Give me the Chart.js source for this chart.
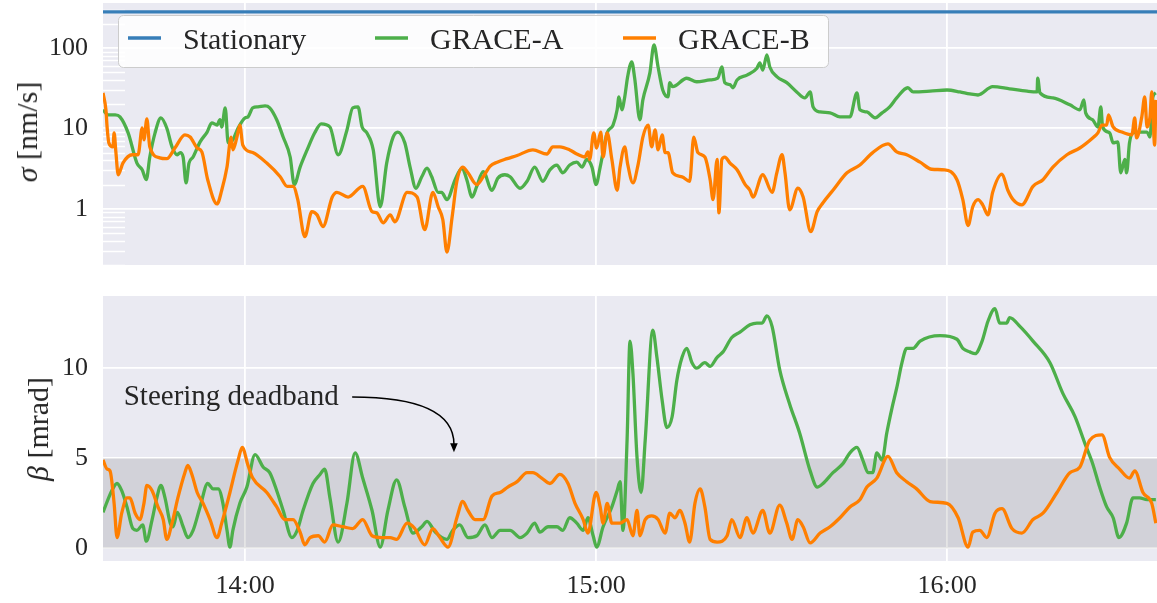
<!DOCTYPE html>
<html>
<head>
<meta charset="utf-8">
<title>Attitude noise and steering angle</title>
<script src="https://cdn.jsdelivr.net/npm/chart.js@4.4.0/dist/chart.umd.min.js"></script>
<style>
  html, body { margin: 0; padding: 0; background: #ffffff; }
  #wrap { position: relative; width: 1157px; height: 603px; overflow: hidden; }
  #sigmaChart { position: absolute; left: 0; top: 0; }
  #betaChart { position: absolute; left: 0; top: 290px; }
  .ytitle {
    position: absolute;
    font-family: 'Liberation Serif', serif;
    font-size: 30px;
    color: #262626;
    white-space: nowrap;
    transform: translate(-50%, -50%) rotate(-90deg);
  }
</style>
</head>
<body>
<div id="wrap">
  <canvas id="sigmaChart" width="1157" height="265"></canvas>
  <canvas id="betaChart" width="1157" height="313"></canvas>
  <div class="ytitle" style="left:27px; top:132px"><i>σ</i> [nm/s]</div>
  <div class="ytitle" style="left:38px; top:429px"><i>β</i> [mrad]</div>
</div>
<script>
// time axis is in minutes after midnight
const tMin = 815.7, tMax = 995.9;
const timeTicks = [840, 900, 960];
const timeTickLabels = ['14:00', '15:00', '16:00'];

const sigmaTicks = [1, 10, 100];
const sigmaTickLabels = ['1', '10', '100'];
const betaTicks = [0, 5, 10];
const betaTickLabels = ['0', '5', '10'];

const seriesLabels = ['Stationary', 'GRACE-A', 'GRACE-B'];
const stationarySigma = 280;
const deadband = [0, 5];

// sigma [nm/s], GRACE-A
const sigmaATime = [815.7,816.6,817.8,818.6,820.0,821.5,822.4,823.1,823.7,824.6,
  825.6,826.6,827.5,828.4,828.9,829.4,829.9,830.4,831.1,832.3,
  833.5,834.3,835.2,835.7,836.0,836.6,837.1,837.9,838.8,840.0,
  840.5,841.3,842.2,843.4,844.2,845.4,846.5,847.7,848.4,849.4,
  850.6,851.9,853.0,854.5,855.9,857.4,858.4,859.3,860.0,860.8,
  861.9,863.1,864.2,865.3,866.1,867.3,868.2,869.2,870.2,871.1,
  871.9,873.0,873.6,874.5,875.9,877.1,877.9,878.8,879.6,880.7,
  882.2,883.2,884.4,885.3,887.0,888.2,889.5,890.9,892.1,893.3,
  894.3,895.5,896.7,897.6,898.4,899.3,900.0,900.7,901.9,902.9,
  903.6,903.9,904.4,904.9,905.4,906.1,906.6,907.5,908.0,909.2,
  909.9,910.6,911.4,912.3,912.6,913.1,915.5,917.2,919.5,920.8,
  921.5,922.0,922.9,923.4,924.1,925.8,927.5,928.0,928.5,929.2,
  929.7,930.9,932.6,934.3,935.7,936.6,937.1,938.3,940.0,941.7,
  943.4,944.6,945.1,946.3,947.7,948.9,950.2,951.4,953.3,954.2,
  957.1,960.0,962.2,963.9,965.3,967.8,970.7,973.7,975.4,975.5,
  975.9,978.1,981.0,982.7,983.4,983.7,984.9,985.8,986.3,986.6,
  987.8,988.4,989.2,989.7,990.4,990.7,991.2,991.8,992.9,994.2,
  994.7,995.2,995.7];
const sigmaA = [17,14.7,14.7,13.9,8.8,3.7,3.05,2.3,4.4,8.8,
  13.5,10.1,5.9,4.7,5.0,4.4,2.1,3.7,4.4,6.8,
  9.0,11.7,11,12.8,10.4,18,6.6,7.2,10.1,13.5,
  13.9,18,18.5,19,18,12.8,7.8,4.4,2.0,3.3,
  5.4,8.8,11.4,10.4,4.7,9.5,18,18.5,10.4,8.8,
  5.4,1.06,3.7,7.8,9.0,6.6,3.3,1.8,2.5,3.2,
  2.5,1.6,1.6,1.3,2.3,3.2,2.3,1.4,1.9,2.9,
  1.7,2.4,2.65,2.5,1.8,2.2,3.3,2.2,3.05,3.5,
  2.8,3.5,3.8,3.3,4.1,3.3,2.0,3.3,8.8,11,
  17,24.6,17,24.6,44,67,42,12.8,22.6,49,
  109,58,30,24.6,37,33,42,38,40,42,
  58,37,35,32,40,46,56,65,53,82,
  58,44,37,28.4,23.9,28.4,18.5,16,15.6,13.9,
  13.9,27.6,17,16,13.5,15.6,18.5,23.9,32,28.4,
  29,30,28.4,26.8,26,33,31,29,28.4,42,
  27.6,23.9,19.6,17,22.6,15.6,12.8,10.4,18.5,10.4,
  8.8,6.6,6.8,2.8,4.1,2.8,6.6,8.8,9.0,9.0,
  7.8,24.6,27.6];

// sigma [nm/s], GRACE-B
const sigmaBTime = [815.7,816.2,816.4,816.7,817.4,817.6,817.9,818.3,819.1,820.7,
  821.7,822.4,822.7,823.2,823.7,825.4,826.6,828.0,829.7,830.6,
  831.8,832.6,833.6,835.2,836.0,836.9,837.6,837.9,838.6,839.1,
  839.6,841.3,843.7,846.0,847.2,848.2,849.0,850.2,851.4,852.3,
  853.3,854.9,855.7,857.6,860.1,861.7,862.5,863.6,864.8,865.6,
  867.7,869.4,870.7,872.1,873.0,873.8,874.5,875.4,876.2,877.2,
  878.1,879.6,880.7,881.9,883.1,884.8,886.5,889.2,891.6,892.6,
  893.8,895.5,896.7,898.1,898.6,898.9,899.6,900.1,900.8,901.2,
  901.9,902.7,903.6,904.1,904.9,905.4,906.3,907.2,908.0,908.9,
  909.5,910.1,910.6,911.3,911.8,912.3,913.1,914.7,916.0,916.7,
  917.4,918.6,919.5,920.0,920.7,921.0,921.5,922.0,922.9,924.1,
  925.5,926.3,926.8,928.5,930.1,930.9,931.8,932.3,933.1,934.5,
  935.4,936.7,937.8,938.8,940.5,942.9,945.1,947.3,949.9,951.4,
  953.1,955.4,957.4,959.6,961.7,962.7,963.6,964.4,965.3,966.1,
  967.0,967.8,969.4,970.4,971.3,972.8,974.7,976.4,978.1,980.5,
  982.7,984.9,985.8,986.5,987.3,987.6,988.4,989.9,991.6,992.1,
  992.4,993.3,993.8,994.2,994.7,995.0,995.5,995.7];
const sigmaB = [27.6,17,10.4,6.6,5.9,8.8,5.1,2.65,3.7,4.7,
  4.7,10.1,7.2,13.1,5.9,4.3,4.2,5.7,8.3,7.8,
  5.7,5.1,2.3,1.15,1.7,3.3,7.8,5.4,7.8,11,
  6.2,5.0,3.7,2.5,1.9,1.9,1.3,0.45,0.92,0.84,
  0.60,1.4,1.6,1.4,1.9,0.92,0.89,0.67,0.84,0.69,
  1.6,1.4,0.55,1.6,1.06,0.73,0.29,0.80,2.2,3.3,
  2.8,2.0,2.5,3.4,3.8,4.2,4.6,5.4,4.8,5.9,
  5.9,5.4,4.8,4.4,5.1,4.1,8.8,5.7,9.0,4.4,
  8.8,4.1,1.7,3.3,5.9,3.6,2.1,3.6,7.8,11,
  5.9,9.6,5.4,8.3,5.0,5.0,2.8,2.5,2.2,7.8,
  5.0,4.4,2.3,1.3,4.1,0.89,4.1,4.4,3.7,3.05,
  2.0,1.7,1.4,2.65,1.6,2.8,4.7,2.8,0.97,1.8,
  1.4,0.52,0.92,1.19,1.7,2.8,3.5,5.0,6.4,5.1,
  4.7,3.8,3.1,3.05,2.3,1.3,0.62,1.06,1.3,1.12,
  0.84,1.6,2.7,1.7,1.3,1.12,1.9,2.3,3.3,4.7,
  5.7,7.6,8.8,11,11,14.7,10.4,9.0,8.3,13.5,
  7.6,13.9,24.6,10.4,13.9,28.4,6.2,22.6];

// beta [mrad], GRACE-A
const betaATime = [815.7,817.2,818.1,818.9,819.8,820.8,821.5,822.5,823.1,824.1,
  824.9,825.6,826.3,827.2,827.7,828.4,829.4,830.2,831.1,832.3,
  833.6,834.5,835.4,836.2,836.9,837.4,837.9,839.1,840.3,841.7,
  843.1,844.2,845.4,846.5,848.0,848.9,849.9,851.6,852.8,853.6,
  854.5,855.9,857.4,858.8,860.1,861.7,863.1,864.4,865.9,867.3,
  868.7,870.2,871.1,872.5,874.5,875.5,876.7,878.1,879.6,881.0,
  882.2,883.6,885.3,887.0,888.2,889.5,890.4,891.8,893.3,894.3,
  895.5,896.7,897.8,898.6,899.5,900.1,901.2,902.7,903.6,904.1,
  904.6,905.3,905.8,906.3,907.0,907.7,908.4,909.7,910.4,911.3,
  912.1,913.0,913.8,914.7,915.5,916.4,917.2,918.6,919.5,920.7,
  921.7,923.2,924.6,926.3,927.5,928.4,929.2,930.1,931.4,933.1,
  934.8,936.6,937.8,938.8,940.5,942.2,943.4,944.6,945.6,946.5,
  947.3,948.0,948.9,949.7,950.6,951.4,952.3,953.1,954.2,955.4,
  958.8,961.7,962.7,963.9,964.8,966.0,967.0,968.2,969.0,970.2,
  970.7,972.5,974.7,977.6,979.8,981.9,983.6,984.9,986.1,987.3,
  988.4,989.4,990.7,991.8,992.9,994.2,995.7];
const betaA = [2.0,3.2,3.6,3.2,2.3,1.1,1.0,1.3,0.4,1.6,
  2.8,3.5,2.8,1.4,1.2,2.0,1.2,0.6,1.0,2.3,
  3.6,3.3,3.3,2.5,1.0,0.07,1.0,2.5,3.4,5.2,
  4.5,4.2,3.2,2.1,0.6,1.0,2.1,3.6,4.1,4.4,
  2.8,0.35,2.5,5.3,3.9,2.1,0.07,2.1,3.8,2.3,
  0.85,1.2,1.5,0.9,0.5,1.0,1.3,0.6,0.7,1.3,
  0.6,1.0,1.0,0.6,0.85,1.4,0.9,1.2,1.2,1.0,
  1.7,1.4,1.0,1.7,0.7,0.07,1.2,2.3,3.2,3.7,
  1.0,6.0,11.5,9.7,5.05,3.1,6.0,12.1,10.6,8.2,
  6.7,7.3,9.3,10.6,11.1,10.3,10.0,10.3,10.1,10.6,
  10.9,11.7,12.0,12.4,12.5,12.5,12.9,12.3,9.9,8.0,
  6.4,4.3,3.4,3.6,4.2,4.7,5.3,5.6,4.9,4.2,
  4.2,5.3,4.9,6.4,7.8,8.9,10.3,11.1,11.1,11.5,
  11.8,11.6,11.1,10.9,10.8,11.5,12.6,13.3,12.5,12.5,
  12.8,12.3,11.5,10.3,8.6,7.3,5.8,4.7,3.4,2.3,
  1.7,0.6,1.4,2.8,2.8,2.7,2.7];

// beta [mrad], GRACE-B
const betaBTime = [815.7,816.4,816.9,817.6,818.1,818.9,819.8,820.3,821.2,822.0,
  822.7,823.2,824.1,825.1,826.0,826.6,827.5,828.5,829.7,830.2,
  830.9,831.8,832.8,834.0,835.2,836.0,837.4,838.3,838.8,839.5,
  840.5,841.3,843.7,845.4,846.8,848.2,849.4,850.2,851.1,852.5,
  853.6,855.0,856.7,858.4,860.1,861.7,863.4,864.8,865.9,867.7,
  869.0,870.7,872.1,873.3,874.7,876.2,877.2,878.1,879.3,880.7,
  882.2,883.6,884.9,886.5,888.2,889.2,890.7,892.1,893.8,895.2,
  896.4,897.8,898.6,900.0,900.7,901.2,901.9,902.7,904.1,905.3,
  906.3,907.0,907.5,908.4,909.5,910.6,911.8,912.6,913.5,914.3,
  915.2,916.0,916.9,917.8,918.6,919.5,920.7,922.4,923.2,924.6,
  925.8,926.8,928.5,929.7,931.4,932.6,933.5,934.5,935.4,936.6,
  938.3,940.0,941.7,943.4,945.1,946.3,948.0,949.9,951.4,953.1,
  954.8,957.1,960.0,961.9,963.6,964.4,965.6,966.8,968.2,969.4,
  971.1,972.8,974.7,976.4,978.8,981.0,982.7,984.4,986.5,987.8,
  989.5,991.2,992.1,993.5,995.0,995.7];
const betaB = [4.9,4.4,4.3,2.5,0.6,1.95,2.8,2.8,1.95,1.6,
  2.5,3.5,3.2,2.3,1.6,0.5,1.4,2.8,4.2,4.6,
  4.1,3.1,2.5,1.6,0.6,1.4,3.1,4.3,4.9,5.6,
  4.6,3.9,3.1,2.3,1.6,1.6,0.9,0.2,0.6,0.7,
  0.35,1.3,1.2,1.1,1.6,0.7,0.6,0.6,0.5,1.4,
  1.1,0.2,1.1,0.6,0.07,1.7,2.6,2.1,1.6,1.6,
  2.9,3.1,3.4,3.7,4.2,4.2,3.9,3.6,4.1,3.6,
  2.5,1.6,0.85,3.1,2.3,1.4,2.5,1.4,1.4,1.6,
  0.7,2.1,0.7,1.6,1.8,1.6,0.85,1.95,1.7,2.1,
  1.4,0.35,2.5,3.3,2.3,0.5,0.35,0.7,1.6,0.6,
  1.7,0.85,2.1,0.85,2.4,1.4,0.5,1.6,1.2,0.3,
  0.85,1.2,1.7,2.3,2.7,3.4,3.9,5.1,4.2,3.7,
  3.3,2.6,2.5,1.7,0.07,0.9,1.0,0.6,1.95,2.2,
  1.1,0.85,1.6,1.95,3.1,4.2,4.5,6.0,6.3,5.05,
  4.4,3.9,4.3,3.1,2.5,1.4];

// "Steering deadband" note: text anchor, arrow start, bend and tip (time, mrad)
const noteText = 'Steering deadband';
const noteAt = [856.0, 8.4];
const arrowFrom = [858.3, 8.4];
const arrowBend = [875.7, 8.4];
const arrowTo = [875.7, 5.33];

const BLUE = '#377eb8', GREEN = '#4daf4a', ORANGE = '#ff7f00';
const INK = '#262626';
const PANEL_BG = '#eaeaf2';
const GRID = '#ffffff';
const SERIF = "'Liberation Serif', 'Times New Roman', serif";
const tickFont = { family: SERIF, size: 26 };

function pts(ts, vs) {
  return ts.map((t, i) => ({ x: t, y: vs[i] }));
}

function lineSet(label, data, color, order) {
  return {
    label, data, order,
    borderColor: color, backgroundColor: color,
    borderWidth: 3.3, pointRadius: 0, fill: false,
    cubicInterpolationMode: 'monotone',
    borderJoinStyle: 'round', borderCapStyle: 'butt'
  };
}

function timeAxis(showLabels, height) {
  return {
    type: 'linear', min: tMin, max: tMax,
    afterBuildTicks: s => { s.ticks = timeTicks.map(v => ({ value: v })); },
    grid: { color: GRID, lineWidth: 1.8, drawTicks: false },
    border: { display: false },
    ticks: {
      display: showLabels, padding: 10, color: INK, font: tickFont,
      maxRotation: 0, autoSkip: false,
      callback: (v, i) => timeTickLabels[i]
    },
    afterFit: s => { s.height = height; s.paddingLeft = 0; s.paddingRight = 0; }
  };
}

function valueAxis(type, min, max, ticks, labels) {
  return {
    type, min, max,
    afterBuildTicks: s => { s.ticks = ticks.map(v => ({ value: v })); },
    grid: { color: GRID, lineWidth: 1.8, drawTicks: false },
    border: { display: false },
    ticks: { padding: 15, color: INK, font: tickFont, autoSkip: false, callback: (v, i) => labels[i] },
    afterFit: s => { s.width = 103; s.paddingTop = 0; s.paddingBottom = 0; }
  };
}

// gray panel behind the grid
const panelBackground = {
  id: 'panelBackground',
  beforeDraw(chart) {
    const { ctx, chartArea: a } = chart;
    ctx.save();
    ctx.fillStyle = PANEL_BG;
    ctx.fillRect(a.left, a.top, a.right - a.left, a.bottom - a.top);
    ctx.restore();
  }
};

// log minor ticks and the legend box, both under the lines
const sigmaDecor = {
  id: 'sigmaDecor',
  beforeDatasetsDraw(chart) {
    const { ctx, chartArea: a } = chart;
    const y = chart.scales.y;
    ctx.save();
    ctx.strokeStyle = GRID;
    ctx.lineWidth = 1.5;
    [0.1, 1, 10, 100].forEach(dec => {
      for (let k = 2; k <= 9; k++) {
        const v = k * dec;
        if (v < y.min || v > y.max) continue;
        const py = Math.round(y.getPixelForValue(v)) + 0.5;
        ctx.beginPath();
        ctx.moveTo(a.left, py);
        ctx.lineTo(a.left + 22, py);
        ctx.stroke();
      }
    });

    // legend
    const bx = 118, by = 15, bw = 710, bh = 52;
    ctx.beginPath();
    ctx.roundRect(bx + 0.5, by + 0.5, bw, bh, 5);
    ctx.fillStyle = 'rgba(255,255,255,0.85)';
    ctx.fill();
    ctx.strokeStyle = '#cccccc';
    ctx.lineWidth = 1;
    ctx.stroke();

    const entryX = [128, 375, 623];
    ctx.font = '30px ' + SERIF;
    ctx.textBaseline = 'alphabetic';
    ctx.textAlign = 'left';
    chart.data.datasets.forEach((ds, i) => {
      const x0 = entryX[i];
      ctx.strokeStyle = ds.borderColor;
      ctx.lineWidth = 3.3;
      ctx.beginPath();
      ctx.moveTo(x0, 38);
      ctx.lineTo(x0 + 33, 38);
      ctx.stroke();
      ctx.fillStyle = INK;
      ctx.fillText(ds.label, x0 + 55, 49);
    });
    ctx.restore();
  }
};

// shaded deadband
const betaBand = {
  id: 'betaBand',
  beforeDatasetsDraw(chart) {
    const { ctx, chartArea: a } = chart;
    const y = chart.scales.y;
    const top = y.getPixelForValue(deadband[1]);
    const bot = y.getPixelForValue(deadband[0]);
    ctx.save();
    ctx.fillStyle = 'rgba(0,0,0,0.1)';
    ctx.fillRect(a.left, top, a.right - a.left, bot - top);
    ctx.restore();
  }
};

// annotation with curved arrow
const betaNote = {
  id: 'betaNote',
  afterDatasetsDraw(chart) {
    const { ctx } = chart;
    const x = chart.scales.x, y = chart.scales.y;
    const px = p => [x.getPixelForValue(p[0]), y.getPixelForValue(p[1])];
    const [tx, ty] = px(noteAt);
    const [sx, sy] = px(arrowFrom);
    const [cx, cy] = px(arrowBend);
    const [ex, ey] = px(arrowTo);
    ctx.save();
    ctx.font = '29px ' + SERIF;
    ctx.fillStyle = INK;
    ctx.textAlign = 'right';
    ctx.textBaseline = 'alphabetic';
    ctx.fillText(noteText, tx, ty + 8);

    const head = 9;
    ctx.strokeStyle = '#000000';
    ctx.lineWidth = 1.5;
    ctx.beginPath();
    ctx.moveTo(sx, sy);
    ctx.quadraticCurveTo(cx, cy, ex, ey - head + 1);
    ctx.stroke();
    ctx.fillStyle = '#000000';
    ctx.beginPath();
    ctx.moveTo(ex, ey);
    ctx.lineTo(ex - 3.8, ey - head);
    ctx.lineTo(ex + 3.8, ey - head);
    ctx.closePath();
    ctx.fill();
    ctx.restore();
  }
};

const baseOptions = {
  responsive: false,
  maintainAspectRatio: false,
  animation: false,
  events: [],
  plugins: { legend: { display: false }, tooltip: { enabled: false } }
};

new Chart(document.getElementById('sigmaChart'), {
  type: 'line',
  data: {
    datasets: [
      lineSet(seriesLabels[0], [{ x: tMin, y: stationarySigma }, { x: tMax, y: stationarySigma }], BLUE, 2),
      lineSet(seriesLabels[1], pts(sigmaATime, sigmaA), GREEN, 1),
      lineSet(seriesLabels[2], pts(sigmaBTime, sigmaB), ORANGE, 0)
    ]
  },
  options: Object.assign({}, baseOptions, {
    layout: { padding: { top: 3, right: 0, bottom: 0, left: 0 } },
    scales: {
      x: timeAxis(false, 0),
      y: valueAxis('logarithmic', 0.2, 362, sigmaTicks, sigmaTickLabels)
    }
  }),
  plugins: [panelBackground, sigmaDecor]
});

new Chart(document.getElementById('betaChart'), {
  type: 'line',
  data: {
    datasets: [
      lineSet(seriesLabels[1], pts(betaATime, betaA), GREEN, 1),
      lineSet(seriesLabels[2], pts(betaBTime, betaB), ORANGE, 0)
    ]
  },
  options: Object.assign({}, baseOptions, {
    layout: { padding: { top: 6, right: 0, bottom: 0, left: 0 } },
    scales: {
      x: timeAxis(true, 42),
      y: valueAxis('linear', -0.7, 14, betaTicks, betaTickLabels)
    }
  }),
  plugins: [panelBackground, betaBand, betaNote]
});
</script>
</body>
</html>
